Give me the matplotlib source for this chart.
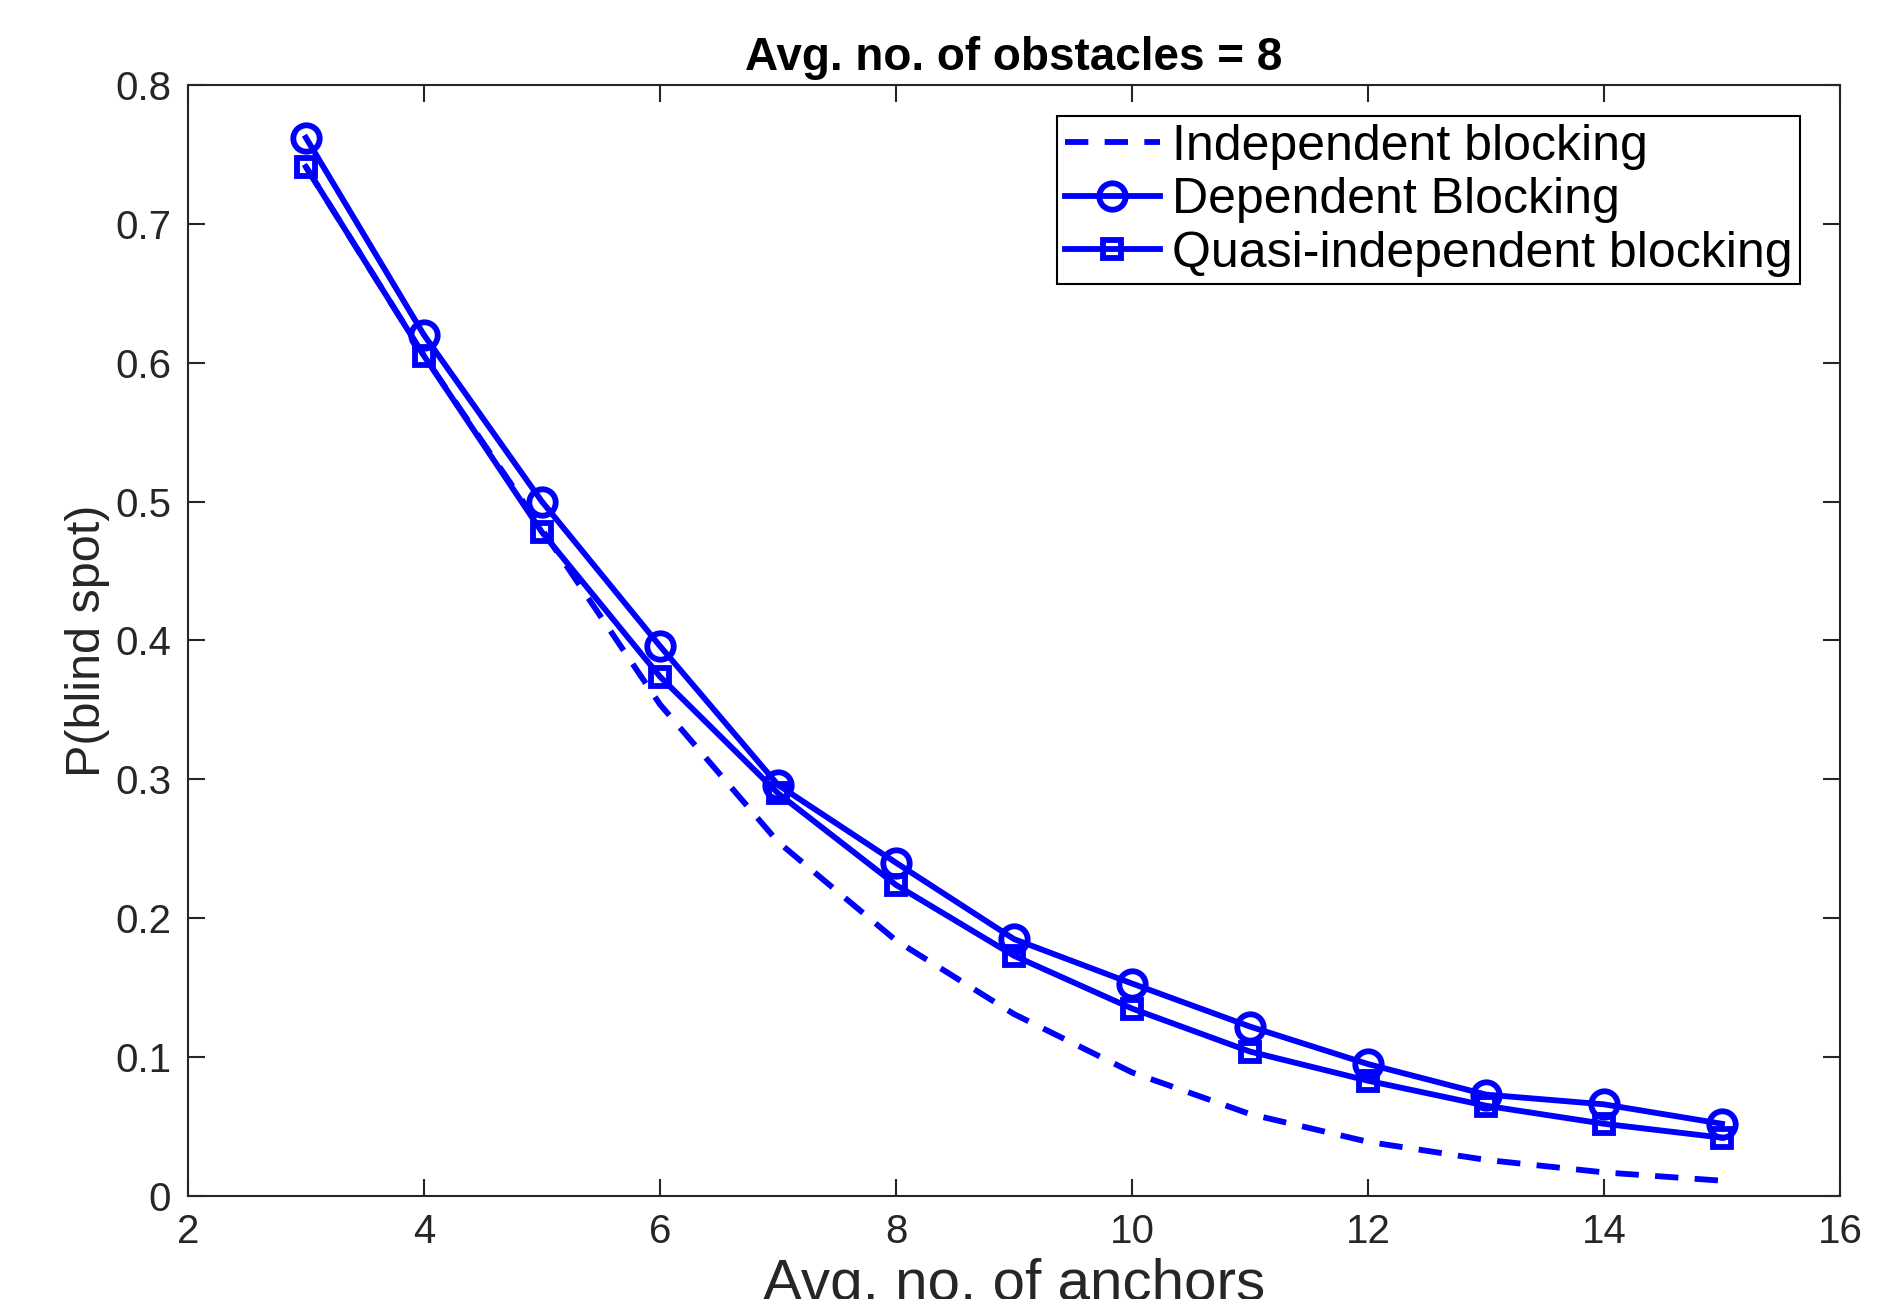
import numpy as np
import matplotlib.pyplot as plt

# values
anchors = [3, 4, 5, 6, 7, 8, 9, 10, 11, 12, 13, 14, 15]
p_independent = [0.741, 0.605, 0.480, 0.354, 0.255, 0.184, 0.131, 0.089, 0.059, 0.039, 0.026, 0.017, 0.011]
p_dependent = [0.762, 0.620, 0.500, 0.396, 0.296, 0.240, 0.185, 0.153, 0.122, 0.095, 0.073, 0.066, 0.052]
p_quasi = [0.741, 0.605, 0.478, 0.374, 0.290, 0.224, 0.173, 0.135, 0.104, 0.083, 0.065, 0.052, 0.042]

plt.rcParams['font.family'] = ['Liberation Sans', 'DejaVu Sans']

fig = plt.figure(figsize=(19.04, 12.99), dpi=100)
ax = fig.add_axes([0.0987, 0.0793, 0.8677, 0.8553])

lw = 4.2
ax.plot(anchors, p_independent, '--', color='blue', linewidth=lw, dashes=(4, 2.8),
        label='Independent blocking')
ax.plot(anchors, p_dependent, '-o', color='blue', linewidth=lw, markersize=19,
        markerfacecolor='none', markeredgewidth=lw, label='Dependent Blocking')
ax.plot(anchors, p_quasi, '-s', color='blue', linewidth=lw, markersize=13,
        markerfacecolor='none', markeredgewidth=lw, label='Quasi-independent blocking')

ax.set_xlim(2, 16)
ax.set_ylim(0, 0.8)
ax.set_xticks(np.arange(2, 17, 2))
ax.set_yticks(np.arange(0, 0.81, 0.1))
ax.set_yticklabels(['0', '0.1', '0.2', '0.3', '0.4', '0.5', '0.6', '0.7', '0.8'])

ax.tick_params(direction='in', top=True, right=True, length=12, width=1.5,
               labelsize=29, colors='#262626', pad=12)
for s in ax.spines.values():
    s.set_linewidth(1.5)
    s.set_color('#262626')

ax.set_title('Avg. no. of obstacles = 8', fontsize=33, fontweight='bold', pad=11)
ax.set_xlabel('Avg. no. of anchors', fontsize=42, color='#262626', labelpad=5)
ax.set_ylabel('P(blind spot)', fontsize=35, color='#262626', labelpad=4)

leg = ax.legend(loc='upper right', bbox_to_anchor=(0.976, 0.972), fontsize=36,
                fancybox=False, edgecolor='black', framealpha=1,
                handlelength=1.9, handletextpad=0.25, borderpad=0.15, labelspacing=0.15,
                borderaxespad=0)
leg.get_frame().set_linewidth(1.5)

fig.savefig('out.png', dpi=100)
